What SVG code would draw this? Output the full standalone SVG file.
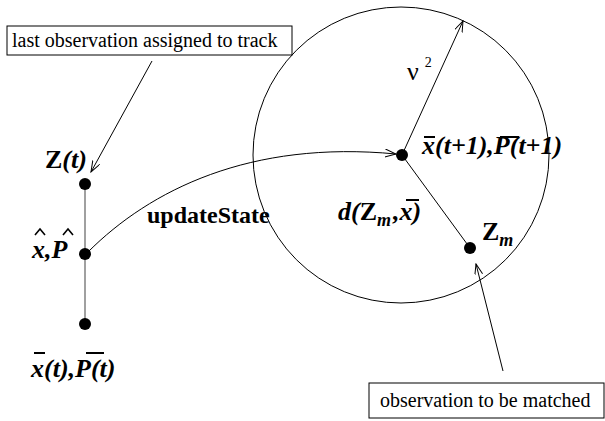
<svg xmlns="http://www.w3.org/2000/svg" width="605" height="421" viewBox="0 0 605 421">
<style>
text{font-family:"Liberation Serif","Times New Roman",Times,"DejaVu Serif",serif;fill:#000}
.box{fill:#fff;stroke:#000;stroke-width:1}
.lbl{font-size:20px}
.m{font-size:26px;font-weight:bold;font-style:italic}
.up{font-style:normal}
.c{fill:none;stroke:#000;stroke-width:1}
.dot{fill:#000}
.bar{stroke:#000;stroke-width:2}
.hat{fill:none;stroke:#000;stroke-width:1.6}
</style>
<defs>
<marker id="ah" markerWidth="12" markerHeight="10" refX="11" refY="4" orient="auto" markerUnits="userSpaceOnUse">
<path d="M0,0 L11,4 L0,8" fill="none" stroke="#000" stroke-width="1"/>
</marker>
</defs>
<g id="gate"><circle cx="401" cy="155" r="148" class="c"/></g>
<g id="connectors">
<line x1="85" y1="183" x2="85" y2="324" stroke="#808080" stroke-width="1.5"/>
<path d="M88,252 C150,190 250,140 396,154" class="c" marker-end="url(#ah)"/>
<line x1="402" y1="155" x2="463" y2="21" class="c" marker-end="url(#ah)"/>
<line x1="402" y1="155" x2="470" y2="248" class="c"/>
<line x1="152" y1="61" x2="91" y2="172" class="c" marker-end="url(#ah)"/>
<line x1="503" y1="371" x2="476" y2="264" class="c" marker-end="url(#ah)"/>
</g>
<g id="note-last">
<rect x="7" y="26" width="285" height="29" class="box"/>
<text x="12" y="47" class="lbl">last observation assigned to track</text>
</g>
<g id="note-match">
<rect x="369" y="383" width="235" height="35" class="box"/>
<text x="380" y="407" class="lbl">observation to be matched</text>
</g>
<g id="node-zt">
<circle cx="85" cy="184" r="6" class="dot"/>
<text x="45" y="168" class="m"><tspan class="up">Z</tspan>(t)</text>
</g>
<g id="node-xhat">
<circle cx="85" cy="254" r="6" class="dot"/>
<text x="32" y="258" class="m">x,P</text>
<polyline points="35,235 40,229 45,235" class="hat"/>
<polyline points="63,235 68,229 73,235" class="hat"/>
</g>
<g id="node-xbar">
<circle cx="85" cy="324" r="6" class="dot"/>
<text x="31" y="377" class="m">x(t),P(t)</text>
<line x1="34" y1="353" x2="45" y2="353" class="bar"/>
<line x1="86" y1="353" x2="104" y2="353" class="bar"/>
</g>
<g id="node-pred">
<circle cx="402" cy="155" r="6" class="dot"/>
<text x="422" y="154" class="m">x(t+1),P(t+1)</text>
<line x1="424" y1="137" x2="435" y2="137" class="bar"/>
<line x1="500" y1="137" x2="519" y2="137" class="bar"/>
<text x="407" y="80" font-size="26">ν<tspan font-size="14" dy="-13" dx="6">2</tspan></text>
</g>
<g id="node-zm">
<circle cx="470" cy="248" r="6" class="dot"/>
<text x="482" y="240" class="m"><tspan class="up">Z</tspan><tspan font-size="18" dy="6">m</tspan></text>
</g>
<g id="labels">
<text x="147" y="223" font-size="24" font-weight="bold">updateState</text>
<text x="338" y="220" class="m">d(<tspan class="up">Z</tspan><tspan font-size="18" dy="6">m</tspan><tspan dy="-6" dx="2">,x)</tspan></text>
<line x1="406" y1="200" x2="419" y2="200" class="bar"/>
</g>
</svg>
